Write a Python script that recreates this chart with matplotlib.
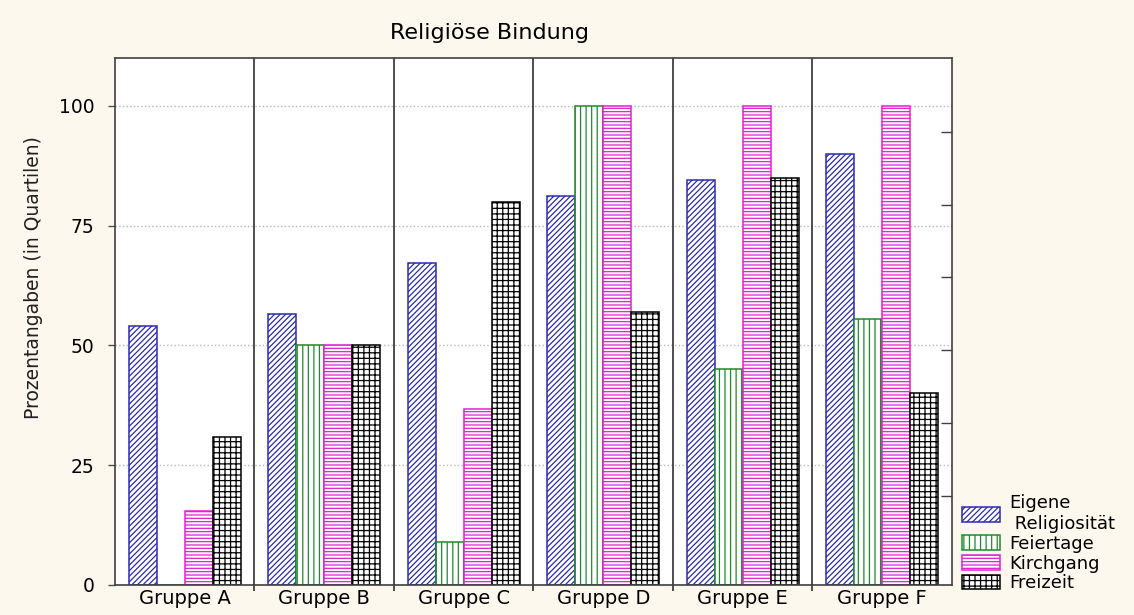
import numpy as np
import matplotlib
matplotlib.use("Agg")
import matplotlib.pyplot as plt
from matplotlib.patches import Patch

gruppen = ["Gruppe A", "Gruppe B", "Gruppe C", "Gruppe D", "Gruppe E", "Gruppe F"]
serien = ["Eigene\n Religiosität", "Feiertage", "Kirchgang", "Freizeit"]

eigene = [54, 56.5, 67.3, 81.2, 84.5, 90]
feiertage = [0, 50, 9, 100, 45, 55.5]
kirchgang = [15.5, 50, 36.7, 100, 100, 100]
freizeit = [30.8, 50, 80, 57, 85, 40]

yticks = [0, 25, 50, 75, 100]
rechts_ticks = [18.5, 33.9, 49.0, 64.2, 79.4, 94.6]

werte = [eigene, feiertage, kirchgang, freizeit]
farben = ["#2b2bb0", "#1f8a2a", "#e020d0", "#000000"]
muster = ["//////", "|||", "-----", "+++"]

plt.rcParams["font.family"] = ["DejaVu Sans"]
plt.rcParams["hatch.linewidth"] = 0.9

bg = "#fdf8ee"
fig = plt.figure(figsize=(11.34, 6.15), dpi=100, facecolor=bg)
ax = fig.add_axes([0.1014, 0.0488, 0.7381, 0.8569])
ax.set_facecolor("white")

x = np.arange(len(gruppen))
breite = 0.2
for i, (v, c, h) in enumerate(zip(werte, farben, muster)):
    ax.bar(x + (i - 1.5) * breite, v, breite, color="white", edgecolor=c,
           hatch=h, linewidth=1.1, zorder=1)

ax.set_xlim(-0.5, len(gruppen) - 0.5)
ax.set_ylim(0, 110)

# Trennlinien zwischen den Gruppen
for b in np.arange(0.5, len(gruppen) - 0.5, 1):
    ax.axvline(b, color="#303030", linewidth=1.2, zorder=2)

ax.set_xticks(x)
ax.set_xticklabels(gruppen, fontsize=14)
ax.set_xticks(np.arange(0.5, len(gruppen) - 0.5, 1), minor=True)
ax.tick_params(axis="x", which="major", length=0, pad=3)
ax.tick_params(axis="x", which="minor", length=4, width=1.2, color="#303030")

ax.set_yticks(yticks)
ax.tick_params(axis="y", labelsize=13.5, length=5, width=1, color="#505050", pad=10)
ax.yaxis.grid(True, linestyle=":", color="#b8b8b8", linewidth=1)
ax.set_axisbelow(True)

for s in ax.spines.values():
    s.set_color("#404040")
    s.set_linewidth(1.2)

ax.set_ylabel("Prozentangaben (in Quartilen)", fontsize=13.5, color="#202020")
ax.yaxis.set_label_coords(-0.086, 0.583)

# rechte Achse mit Innen-Ticks
ax2 = ax.twinx()
ax2.set_ylim(0, 110)
ax2.set_yticks(rechts_ticks)
ax2.set_yticklabels([])
ax2.tick_params(axis="y", direction="in", length=8, width=1, color="#404040")
for s in ax2.spines.values():
    s.set_visible(False)

fig.text(0.432, 0.946, "Religiöse Bindung", fontsize=16, ha="center", va="center")

handles = [Patch(facecolor="white", edgecolor=c, hatch=h, linewidth=1.1)
           for c, h in zip(farben, muster)]
fig.legend(handles, serien, loc="lower left", bbox_to_anchor=(0.842, 0.025),
           frameon=False, fontsize=13, handlelength=2.1, handleheight=0.85,
           handletextpad=0.5, labelspacing=0.1, borderaxespad=0)

plt.savefig("out.png", dpi=100, facecolor=bg)
